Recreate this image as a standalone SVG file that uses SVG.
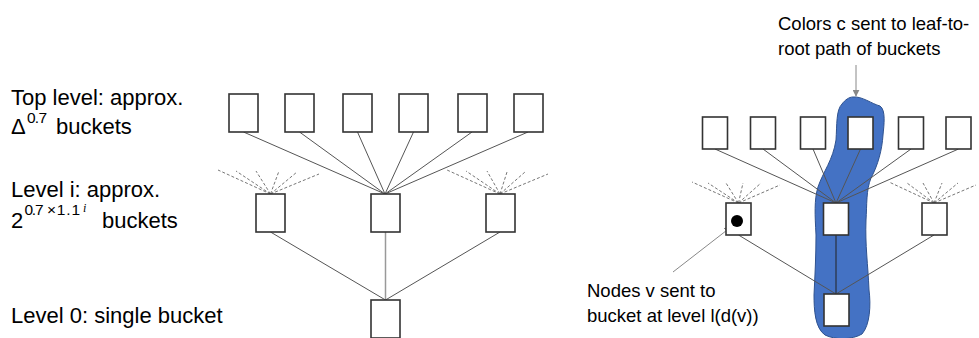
<svg xmlns="http://www.w3.org/2000/svg" width="979" height="338" viewBox="0 0 979 338">
  <style>
    .lbl { font-family: "Liberation Sans", Arial, sans-serif; fill: #000; }
    .big { font-size: 22px; }
    .sup { font-size: 15.5px; }
    .med { font-size: 18.5px; }
    .box { fill: #fff; stroke: #333; stroke-width: 1.6; }
    .edge { stroke: #555; stroke-width: 1; fill: none; }
    .dash { stroke: #777; stroke-width: 1; stroke-dasharray: 3 2; fill: none; }
    .ptr { stroke: #888; stroke-width: 1; fill: none; }
  </style>
  <defs>
    <marker id="tip" viewBox="0 0 10 10" refX="9" refY="5" markerWidth="7" markerHeight="7" orient="auto">
      <path d="M0,0 L10,5 L0,10 Z" fill="#888"/>
    </marker>
  </defs>

  <rect width="979" height="338" fill="#fff"/>

  <!-- level descriptions -->
  <g id="labels">
    <text class="lbl big" x="11" y="105">Top level: approx.</text>
    <text class="lbl big" x="11" y="134">Δ<tspan class="sup" x="27" y="123" textLength="20">0.7</tspan><tspan x="56" y="134">buckets</tspan></text>
    <text class="lbl big" x="11" y="197">Level i: approx.</text>
    <text class="lbl big" x="11" y="228">2<tspan class="sup" x="24.5" y="215" textLength="19">0.7</tspan><tspan class="sup" x="47" y="215" textLength="33">×1.1</tspan><tspan x="83" y="211.5" font-size="12" font-style="italic" font-family="Liberation Serif, serif">i</tspan><tspan x="102" y="228">buckets</tspan></text>
    <text class="lbl big" x="11" y="323">Level 0: single bucket</text>
  </g>

  <!-- highlighted leaf-to-root path -->
  <path id="path-highlight" d="M853 97 C862 96,872 104,880 106 C886 110,884 125,883 135 C882 150,878 165,871 178 C866 190,867 205,866 220 C865 245,868 265,869 290 C871 305,870 325,862 334 C852 340,835 340,825 335 C815 328,814 310,814 295 C815 275,816 255,816 235 C815 215,814 200,818 187 C823 172,833 160,836 140 C837 125,836 110,842 104 C845 100,849 97,853 97 Z" fill="#4472C4" stroke="#2F528F" stroke-width="1"/>

  <!-- connectors -->
  <g id="connectors">
    <!-- left tree: top level to level i -->
    <line class="edge" x1="243.5" y1="132" x2="385" y2="194"/>
    <line class="edge" x1="299.5" y1="132" x2="385" y2="194"/>
    <line class="edge" x1="357.5" y1="132" x2="385" y2="194"/>
    <line class="edge" x1="413.5" y1="132" x2="385" y2="194"/>
    <line class="edge" x1="472" y1="132" x2="385" y2="194"/>
    <line class="edge" x1="528" y1="132" x2="385" y2="194"/>
    <!-- left tree: partial fans -->
    <g class="dash">
      <line x1="270.5" y1="194" x2="218" y2="170"/>
      <line x1="270.5" y1="194" x2="236" y2="171"/>
      <line x1="270.5" y1="194" x2="256" y2="171"/>
      <line x1="270.5" y1="194" x2="279" y2="171"/>
      <line x1="270.5" y1="194" x2="297" y2="172"/>
      <line x1="270.5" y1="194" x2="319" y2="174"/>
      <line x1="500" y1="194" x2="447" y2="170"/>
      <line x1="500" y1="194" x2="466" y2="171"/>
      <line x1="500" y1="194" x2="487" y2="171"/>
      <line x1="500" y1="194" x2="507" y2="172"/>
      <line x1="500" y1="194" x2="525" y2="172"/>
      <line x1="500" y1="194" x2="548" y2="174"/>
    </g>
    <!-- left tree: level i to level 0 -->
    <line class="edge" x1="270.5" y1="232" x2="385.5" y2="300"/>
    <line x1="385.5" y1="232" x2="385.5" y2="300" stroke="#999" stroke-width="1.5"/>
    <line class="edge" x1="500" y1="232" x2="385.5" y2="300"/>

    <!-- right tree: top level to level i -->
    <line class="edge" x1="715" y1="149" x2="836" y2="203"/>
    <line class="edge" x1="763" y1="149" x2="836" y2="203"/>
    <line class="edge" x1="813" y1="149" x2="836" y2="203"/>
    <line class="edge" x1="860.5" y1="149" x2="836" y2="203" stroke="#222"/>
    <line class="edge" x1="911" y1="149" x2="836" y2="203"/>
    <line class="edge" x1="958.5" y1="149" x2="836" y2="203"/>
    <g class="dash">
      <line x1="738.5" y1="203" x2="692" y2="182"/>
      <line x1="738.5" y1="203" x2="708" y2="183"/>
      <line x1="738.5" y1="203" x2="726" y2="183"/>
      <line x1="738.5" y1="203" x2="743" y2="183"/>
      <line x1="738.5" y1="203" x2="761" y2="183"/>
      <line x1="738.5" y1="203" x2="780" y2="185"/>
      <line x1="934" y1="203" x2="889" y2="182"/>
      <line x1="934" y1="203" x2="907" y2="183"/>
      <line x1="934" y1="203" x2="923" y2="183"/>
      <line x1="934" y1="203" x2="942" y2="183"/>
      <line x1="934" y1="203" x2="958" y2="183"/>
      <line x1="934" y1="203" x2="976" y2="185"/>
    </g>
    <line class="edge" x1="738.5" y1="235" x2="836" y2="294"/>
    <line x1="836" y1="235" x2="836" y2="294" stroke="#222" stroke-width="1"/>
    <line class="edge" x1="934" y1="235" x2="836" y2="294"/>

    <!-- annotation pointers -->
    <line class="ptr" x1="856" y1="65" x2="856" y2="96" marker-end="url(#tip)"/>
    <line class="ptr" x1="673" y1="272" x2="731" y2="227" marker-end="url(#tip)"/>
  </g>

  <!-- left tree nodes -->
  <g id="L-top-1"><rect class="box" x="229" y="94" width="29" height="38"/></g>
  <g id="L-top-2"><rect class="box" x="285" y="94" width="29" height="38"/></g>
  <g id="L-top-3"><rect class="box" x="343" y="94" width="29" height="38"/></g>
  <g id="L-top-4"><rect class="box" x="399" y="94" width="29" height="38"/></g>
  <g id="L-top-5"><rect class="box" x="458" y="94" width="29" height="38"/></g>
  <g id="L-top-6"><rect class="box" x="514" y="94" width="29" height="38"/></g>
  <g id="L-mid-1"><rect class="box" x="256" y="194" width="29" height="38"/></g>
  <g id="L-mid-2"><rect class="box" x="371" y="194" width="29" height="38"/></g>
  <g id="L-mid-3"><rect class="box" x="486" y="194" width="29" height="38"/></g>
  <g id="L-root"><rect class="box" x="371" y="300" width="29" height="38"/></g>

  <!-- right tree nodes -->
  <g id="R-top-1"><rect class="box" x="702.5" y="117" width="25" height="32"/></g>
  <g id="R-top-2"><rect class="box" x="750.5" y="117" width="25" height="32"/></g>
  <g id="R-top-3"><rect class="box" x="800.5" y="117" width="25" height="32"/></g>
  <g id="R-top-4"><rect class="box" x="848" y="117" width="25" height="32" stroke="#222"/></g>
  <g id="R-top-5"><rect class="box" x="898.5" y="117" width="25" height="32"/></g>
  <g id="R-top-6"><rect class="box" x="946" y="117" width="25" height="32"/></g>
  <g id="R-mid-1">
    <rect class="box" x="726" y="203" width="25" height="32"/>
    <circle cx="737" cy="221" r="6" fill="#000"/>
  </g>
  <g id="R-mid-2"><rect class="box" x="823.5" y="203" width="25" height="32" stroke="#222"/></g>
  <g id="R-mid-3"><rect class="box" x="922" y="203" width="25" height="32"/></g>
  <g id="R-root"><rect class="box" x="824" y="294" width="25" height="32" stroke="#222"/></g>

  <!-- annotations -->
  <g id="note-colors">
    <text class="lbl med" x="778" y="30">Colors c sent to leaf-to-</text>
    <text class="lbl med" x="778" y="55">root path of buckets</text>
  </g>
  <g id="note-nodes">
    <text class="lbl med" x="587" y="297">Nodes v sent to</text>
    <text class="lbl med" x="587" y="322">bucket at level l(d(v))</text>
  </g>
</svg>
